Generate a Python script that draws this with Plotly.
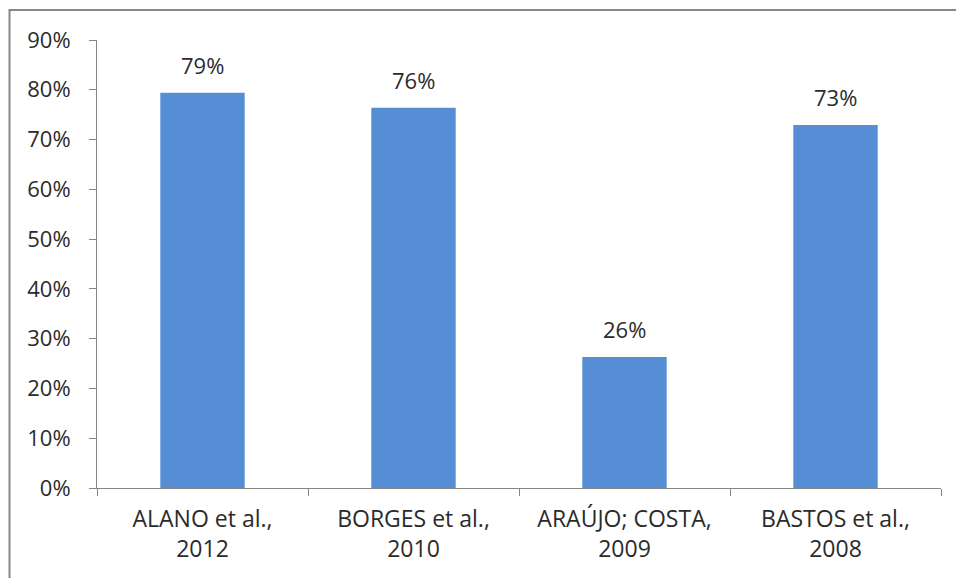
import plotly.graph_objects as go

# Studies compared and the share reported by each
studies = ["ALANO et al.,<br>2012", "BORGES et al.,<br>2010", "ARAÚJO; COSTA,<br>2009", "BASTOS et al.,<br>2008"]
shares = [0.794, 0.764, 0.263, 0.729]
y_ticks = [0, 0.1, 0.2, 0.3, 0.4, 0.5, 0.6, 0.7, 0.8, 0.9]

W, H = 956, 578
ML, MR, MT, MB = 97, 15, 40, 90
PW, PH = W - ML - MR, H - MT - MB

FONT = "Open Sans"
TEXT = "#2b2b2b"
AXIS = "#868686"
BAR = "#558ED5"

fig = go.Figure(
    go.Bar(
        x=studies,
        y=shares,
        marker=dict(color=BAR, line=dict(width=0)),
        width=0.4,
        hoverinfo="skip",
    )
)

# value labels above each bar
for s, v in zip(studies, shares):
    fig.add_annotation(
        x=s, y=v, text=f"{round(v * 100)}%", showarrow=False,
        yanchor="bottom", yshift=11,
        font=dict(family=FONT, size=22, color=TEXT),
    )

# outer chart border (runs off the right and bottom edges)
fig.add_shape(
    type="rect", xref="paper", yref="paper",
    x0=(9.5 - ML) / PW, x1=(W + 20 - ML) / PW,
    y0=-(H + 20 - (H - MB)) / PH, y1=(H - MB - 10) / PH,
    line=dict(color="#888888", width=2), fillcolor="rgba(0,0,0,0)", layer="above",
)

fig.update_layout(
    width=W, height=H,
    margin=dict(l=ML, r=MR, t=MT, b=MB),
    paper_bgcolor="white", plot_bgcolor="white",
    showlegend=False,
    font=dict(family=FONT, color=TEXT),
    xaxis=dict(
        type="category",
        showline=True, linecolor=AXIS, linewidth=1,
        ticks="outside", tickson="boundaries", ticklen=7, tickcolor=AXIS,
        tickfont=dict(family=FONT, size=23, color=TEXT),
        ticklabelstandoff=10,
        showgrid=False, zeroline=False,
    ),
    yaxis=dict(
        range=[0, 0.9], tickvals=y_ticks, tickformat=".0%",
        showline=True, linecolor=AXIS, linewidth=1,
        ticks="outside", ticklen=7, tickcolor=AXIS,
        tickfont=dict(family=FONT, size=22, color=TEXT),
        ticklabelstandoff=14,
        showgrid=False, zeroline=False,
    ),
)

fig.write_html("out.html")
